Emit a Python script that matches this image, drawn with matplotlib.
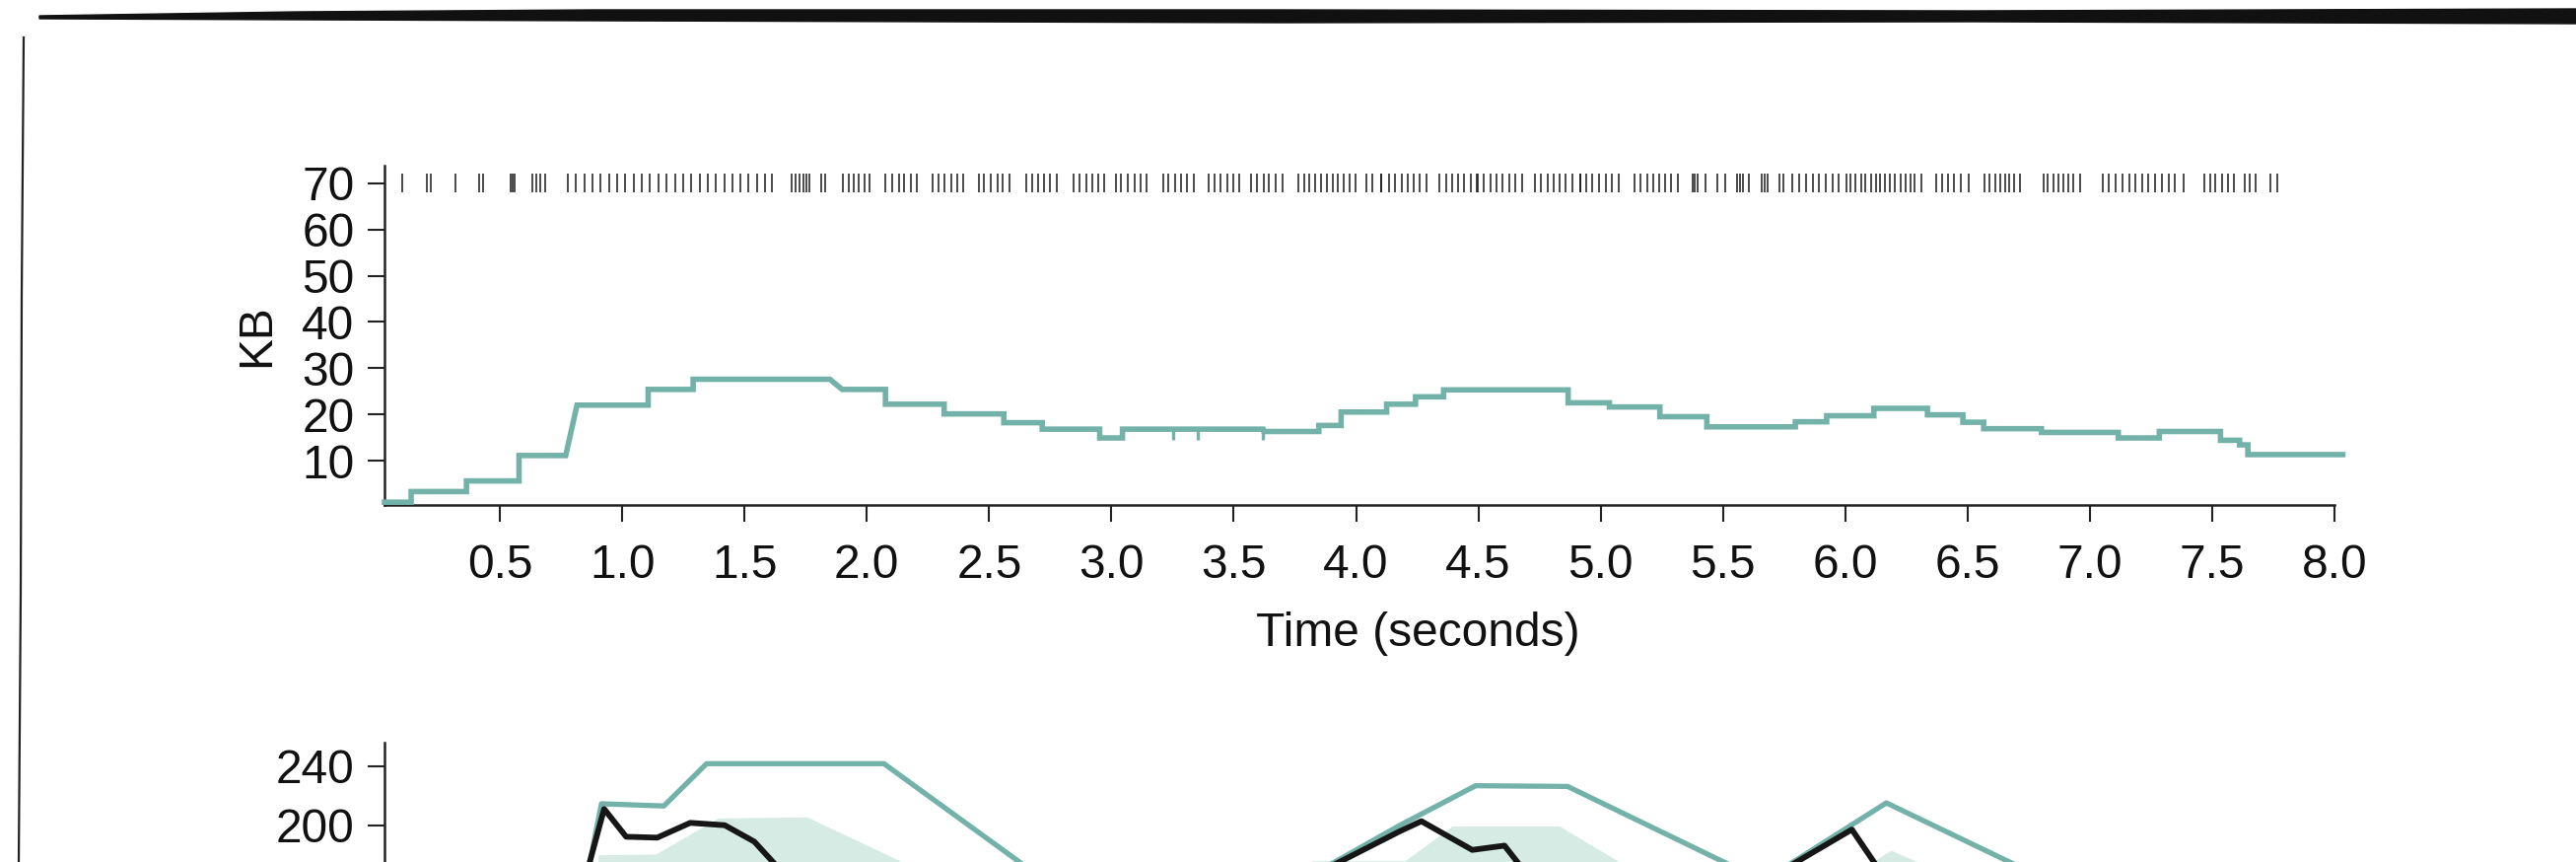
import matplotlib
matplotlib.use('Agg')
import matplotlib.pyplot as plt
from matplotlib.patches import Polygon
from matplotlib.lines import Line2D

plt.rcParams['font.family'] = ['Liberation Sans', 'DejaVu Sans']

W, H = 2613, 874
TEAL = '#73b2a8'
BAND = '#d6ebe4'
INK = '#161616'

# top chart: KB in flight, as flat levels (start, end, value)
seg_start = [0.028, 0.137, 0.363, 0.578, 0.815, 1.106, 1.290, 1.899, 2.076, 2.316, 2.560, 2.717,
             2.952, 3.045, 3.623, 3.848, 3.939, 4.125, 4.243, 4.358, 4.867, 5.036, 5.242, 5.434,
             5.796, 5.924, 6.117, 6.336, 6.481, 6.566, 6.802, 7.116, 7.284, 7.534, 7.612, 7.646]
seg_end = [0.137, 0.363, 0.578, 0.769, 1.106, 1.290, 1.849, 2.076, 2.316, 2.560, 2.717, 2.952,
           3.045, 3.620, 3.848, 3.939, 4.125, 4.243, 4.358, 4.867, 5.036, 5.242, 5.434, 5.796,
           5.924, 6.117, 6.336, 6.481, 6.566, 6.802, 7.116, 7.284, 7.534, 7.612, 7.646, 8.034]
seg_kb = [1.0, 3.3, 5.6, 11.1, 22.0, 25.4, 27.6, 25.4, 22.2, 20.1, 18.2, 16.8,
          14.9, 16.8, 16.3, 17.6, 20.5, 22.2, 23.8, 25.3, 22.5, 21.6, 19.5, 17.3,
          18.4, 19.7, 21.3, 19.9, 18.3, 16.9, 16.1, 14.9, 16.3, 14.4, 13.4, 11.3]

# short dips in the KB line
dip_t = [3.253, 3.352, 3.621]
dip_low = [14.5, 14.5, 14.5]
dip_high = [16.8, 16.8, 16.8]

# packet times shown as a rug at the top
rug_t = [0.102, 0.200, 0.219, 0.317, 0.415, 0.431, 0.545, 0.553, 0.561, 0.633, 0.649, 0.666, 0.686,
         0.778, 0.811, 0.845, 0.879, 0.912, 0.946, 0.979, 1.013, 1.047, 1.080, 1.114, 1.148, 1.181,
         1.215, 1.249, 1.282, 1.316, 1.349, 1.383, 1.417, 1.450, 1.484, 1.517, 1.551, 1.584, 1.613,
         1.694, 1.708, 1.724, 1.739, 1.752, 1.764, 1.815, 1.831, 1.902, 1.925, 1.947, 1.968, 1.990, 2.011,
         2.077, 2.104, 2.131, 2.154, 2.181, 2.205, 2.269, 2.292, 2.319, 2.346, 2.369, 2.393,
         2.457, 2.480, 2.507, 2.534, 2.557, 2.584, 2.651, 2.675, 2.699, 2.725, 2.749, 2.776,
         2.847, 2.870, 2.897, 2.921, 2.946, 2.971, 3.018, 3.040, 3.067, 3.094, 3.118, 3.145,
         3.210, 3.233, 3.260, 3.284, 3.309, 3.336, 3.398, 3.421, 3.447, 3.474, 3.499, 3.524,
         3.572, 3.595, 3.622, 3.645, 3.672, 3.699, 3.763, 3.788, 3.810, 3.833, 3.857, 3.882,
         3.904, 3.927, 3.951, 3.975, 3.998,
         4.041, 4.066, 4.102, 4.104, 4.133, 4.160, 4.187, 4.211, 4.236, 4.260, 4.287,
         4.341, 4.368, 4.392, 4.418, 4.442, 4.469, 4.495, 4.497, 4.522, 4.549, 4.576, 4.600, 4.626,
         4.650, 4.677, 4.731, 4.755, 4.782, 4.807, 4.832, 4.858, 4.885, 4.915, 4.917, 4.939, 4.966,
         4.993, 5.020, 5.046, 5.073, 5.140, 5.164, 5.190, 5.214, 5.239, 5.264, 5.288, 5.315,
         5.376, 5.386, 5.396, 5.427, 5.476, 5.510, 5.557, 5.568, 5.580, 5.607, 5.658, 5.669, 5.682,
         5.732, 5.749, 5.785, 5.812, 5.839, 5.866, 5.893, 5.920, 5.947, 5.973,
         6.003, 6.023, 6.043, 6.064, 6.083, 6.104, 6.124, 6.144, 6.164, 6.184, 6.204, 6.225,
         6.245, 6.265, 6.285, 6.313, 6.372, 6.397, 6.421, 6.444, 6.471, 6.504,
         6.571, 6.591, 6.612, 6.632, 6.652, 6.672, 6.692, 6.716,
         6.810, 6.829, 6.851, 6.871, 6.891, 6.911, 6.932, 6.961,
         7.052, 7.079, 7.106, 7.133, 7.160, 7.187, 7.214, 7.240, 7.267, 7.294, 7.321, 7.348, 7.384,
         7.469, 7.492, 7.514, 7.539, 7.563, 7.590, 7.635, 7.653, 7.676, 7.740, 7.767]

x_ticks = [0.5, 1.0, 1.5, 2.0, 2.5, 3.0, 3.5, 4.0, 4.5, 5.0, 5.5, 6.0, 6.5, 7.0, 7.5, 8.0]
kb_ticks = [10, 20, 30, 40, 50, 60, 70]

# bottom chart (cut off by the page): max line, mean line and band
max_t = [0.838, 0.915, 1.170, 1.345, 2.070, 2.900, 3.600, 4.180, 4.489, 4.865, 5.650, 5.700,
         6.168, 6.900, 8.000]
max_v = [150.0, 214.5, 213.0, 241.6, 241.6, 142.0, 146.0, 200.0, 226.7, 226.2, 163.4, 166.0,
         215.1, 157.0, 150.0]
mean_t = [0.827, 0.926, 1.016, 1.143, 1.278, 1.419, 1.540, 1.700, 3.700, 4.180, 4.267, 4.475,
          4.607, 4.750, 5.600, 6.027, 6.200, 8.000]
mean_v = [150.6, 211.0, 192.2, 191.6, 201.6, 200.0, 188.9, 160.0, 155.6, 196.0, 202.7, 183.3,
          186.2, 156.0, 155.6, 197.1, 155.0, 150.0]
band_t = [0.895, 0.902, 1.137, 1.392, 1.755, 2.084, 2.300, 3.750, 3.820, 4.200, 4.394, 4.831,
          5.073, 5.200, 6.050, 6.116, 6.186, 6.276, 6.400, 8.000]
band_hi = [150.0, 180.0, 180.5, 204.9, 205.6, 180.0, 163.0, 165.0, 176.0, 176.0, 199.5, 199.5,
           175.6, 163.0, 163.0, 175.6, 183.1, 176.7, 168.0, 160.0]
band_lo = 100.0
low_ticks = [200, 240]

fig = plt.figure(figsize=(W / 100, H / 100), dpi=100)


def style_axis(ax):
    for s in ['top', 'right']:
        ax.spines[s].set_visible(False)
    for s in ['left', 'bottom']:
        ax.spines[s].set_linewidth(1.8)
        ax.spines[s].set_color('#222222')
    ax.tick_params(axis='both', direction='out', length=12, width=1.5, color='#222222',
                   labelsize=34.5, labelcolor='#111111')
    ax.tick_params(axis='y', pad=10)
    ax.tick_params(axis='x', pad=16)


# top chart
ax1 = fig.add_axes([390 / W, 1 - 512 / H, (2368 - 390) / W, (512 - 168) / H])
style_axis(ax1)
xs, ys = [], []
for s, e, v in zip(seg_start, seg_end, seg_kb):
    xs += [s, e]
    ys += [v, v]
ax1.plot(xs, ys, color=TEAL, lw=4.0, solid_joinstyle='miter', clip_on=False, zorder=3)
ax1.vlines(dip_t, dip_low, dip_high, color=TEAL, lw=2.4, zorder=3)
ax1.vlines(rug_t, 68.1, 72.0, color='#1a1a1a', lw=1.1, zorder=2)
ax1.set_xlim(0.028, 8.0)
ax1.set_ylim(0.4, 73.8)
ax1.set_xticks(x_ticks)
ax1.set_xticklabels(['%.1f' % t for t in x_ticks])
ax1.set_yticks(kb_ticks)
ax1.set_ylabel('KB', fontsize=34.5, color='#111111')
ax1.yaxis.set_label_coords(-0.054, 0.5)
ax1.set_xlabel('Time (seconds)', fontsize=34.5, color='#111111')
ax1.xaxis.set_label_coords(0.5298, -0.314)

# bottom chart, only its top part is on the page
ax2 = fig.add_axes([390 / W, 1 - 1136.7 / H, (2368 - 390) / W, (1136.7 - 753.3) / H])
style_axis(ax2)
ax2.fill_between(band_t, band_lo, band_hi, color=BAND, lw=0, zorder=1)
ax2.plot(max_t, max_v, color=TEAL, lw=3.8, zorder=3)
ax2.plot(mean_t, mean_v, color=INK, lw=4.2, zorder=4)
ax2.set_xlim(0.028, 8.0)
ax2.set_ylim(0, 255.6)
ax2.set_yticks(low_ticks)
ax2.set_xticks([])

# hand drawn page frame
top_edge = [(40, 16), (300, 12), (600, 10), (1300, 10), (2000, 11), (2613, 9)]
bottom_edge = [(2613, 24), (2000, 22), (1300, 23), (600, 21), (300, 20), (40, 19)]
pts = [(x / W, 1 - y / H) for x, y in top_edge + bottom_edge]
fig.add_artist(Polygon(pts, closed=True, facecolor='#111111', edgecolor='#111111', lw=1,
                       transform=fig.transFigure))
left_line = [(24, 38), (22, 300), (21, 600), (19, 874)]
fig.add_artist(Line2D([x / W for x, y in left_line], [1 - y / H for x, y in left_line],
                      color='#222222', lw=1.6, transform=fig.transFigure))

fig.savefig('out.png', dpi=100, facecolor='white')
